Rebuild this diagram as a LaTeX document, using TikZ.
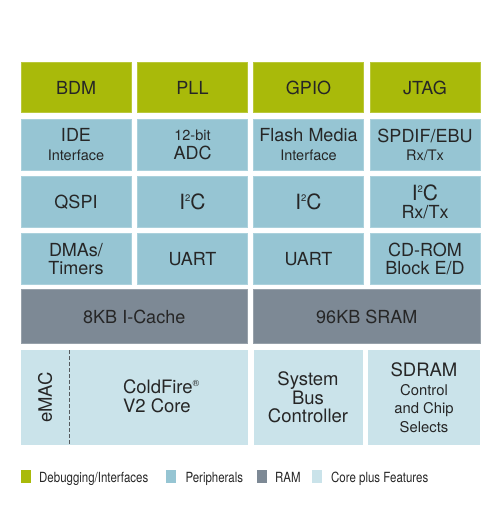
\documentclass[tikz,border=0pt]{standalone}
\usepackage{fontspec}
\setmainfont{TeX Gyre Heros}
\newfontfamily\legfont[FakeStretch=0.82]{TeX Gyre Heros}
\definecolor{dbg}{HTML}{A9BA0A}
\definecolor{per}{HTML}{96C5D3}
\definecolor{ram}{HTML}{7D8995}
\definecolor{core}{HTML}{CAE3EA}
\definecolor{txt}{HTML}{262626}
\definecolor{dashc}{HTML}{555A5E}
\newcommand\subf{\fontsize{14.5}{18.5}\selectfont}
\newcommand\isq{{\fontsize{21}{21}\selectfont I\raisebox{8.4pt}{\fontsize{9.5}{9.5}\selectfont 2}C}}
\newcommand\reg{\raisebox{7pt}{\fontsize{9}{9}\selectfont ®}}
\newcommand\bx[7]{\node[#1, minimum width={(#5-#3)*1pt}, minimum height={(#6-#4)*1pt}] (#2) at ({(#3+#5)/2},{(#4+#6)/2}) {#7};}
\tikzset{
  x=1pt, y=-1pt,
  box/.style={inner sep=0pt, outer sep=0pt, align=center, text=txt,
    font=\fontsize{18}{18.5}\selectfont},
  dbgbox/.style={box, fill=dbg, draw=dbg!80!white, line width=0.8pt},
  perbox/.style={box, fill=per, draw=per!80!white, line width=0.8pt},
  rambox/.style={box, fill=ram, draw=ram!80!white, line width=0.8pt},
  corebox/.style={box, fill=core, font=\fontsize{18.5}{18.5}\selectfont},
  legsq/.style={inner sep=0pt, outer sep=0pt, minimum width=10pt, minimum height=13pt},
  legtxt/.style={inner sep=0pt, anchor=base west, text=txt, font=\legfont\fontsize{14}{14}\selectfont},
}
\begin{document}
\begin{tikzpicture}
\useasboundingbox (0,0) rectangle (500,515);
% row 1
\bx{dbgbox}{bdm}{21}{62.5}{131}{112.5}{BDM}
\bx{dbgbox}{pll}{137.5}{62.5}{247.5}{112.5}{PLL}
\bx{dbgbox}{gpio}{253.5}{62.5}{363.5}{112.5}{GPIO}
\bx{dbgbox}{jtag}{370}{62.5}{480}{112.5}{JTAG}
% row 2
\bx{perbox}{ide}{21}{119.5}{131}{170}{IDE\\\subf Interface}
\bx{perbox}{adc}{137.5}{119.5}{247.5}{170}{\subf 12-bit\\ADC}
\bx{perbox}{flash}{253.5}{119.5}{363.5}{170}{Flash Media\\\subf Interface}
\bx{perbox}{spdif}{370}{119.5}{480}{170}{SPDIF/EBU\\\subf Rx/Tx}
% row 3
\bx{perbox}{qspi}{21}{176.5}{131}{227.5}{QSPI}
\bx{perbox}{iic1}{137.5}{176.5}{247.5}{227.5}{\isq}
\bx{perbox}{iic2}{253.5}{176.5}{363.5}{227.5}{\isq}
\bx{perbox}{iic3}{370}{176.5}{480}{227.5}{\isq\\Rx/Tx}
% row 4
\bx{perbox}{dma}{21}{233.5}{131}{284.5}{DMAs/\\Timers}
\bx{perbox}{uart1}{137.5}{233.5}{247.5}{284.5}{UART}
\bx{perbox}{uart2}{253.5}{233.5}{363.5}{284.5}{UART}
\bx{perbox}{cdrom}{370}{233.5}{480}{284.5}{CD-ROM\\Block E/D}
% RAM
\bx{rambox}{icache}{21}{289.5}{247.5}{343.5}{8KB I-Cache}
\bx{rambox}{sram}{253.5}{289.5}{480}{343.5}{96KB SRAM}
% core
\bx{corebox}{emac}{21}{350}{69.5}{445}{}
\bx{corebox}{cfbox}{69.5}{350}{247.5}{445}{}
\node[box, font=\fontsize{18.5}{18.5}\selectfont, rotate=90] (emact) at (emac.center) {eMAC};
\node[box, font=\fontsize{18.5}{18.5}\selectfont, align=left, anchor=west] (cf) at (123,396.5) {ColdFire\reg\\V2 Core};
\draw[dashc, line width=0.9pt, dash pattern=on 4pt off 2pt] (emac.north east) -- (emac.south east);
\bx{corebox}{sbc}{253.5}{350}{362.5}{445}{System\\Bus\\Controller}
\bx{corebox}{sdram}{368}{350}{480}{445}{\fontsize{18.5}{15.8}\selectfont SDRAM\\\fontsize{14.8}{15.8}\selectfont Control\\\fontsize{14.8}{15.8}\selectfont and Chip\\\fontsize{14.8}{15.8}\selectfont Selects}
% legend
\node[legsq, fill=dbg] (l1) at (26,476.5) {};
\node[legtxt] (l1t) at (39,482.7) {Debugging/Interfaces};
\node[legsq, fill=per] (l2) at (170.7,476.5) {};
\node[legtxt] (l2t) at (185.3,482.7) {Peripherals};
\node[legsq, fill=ram] (l3) at (262.3,476.5) {};
\node[legtxt] (l3t) at (275,482.7) {RAM};
\node[legsq, fill=core] (l4) at (316.7,476.5) {};
\node[legtxt] (l4t) at (331,482.7) {Core plus Features};
\end{tikzpicture}
\end{document}
